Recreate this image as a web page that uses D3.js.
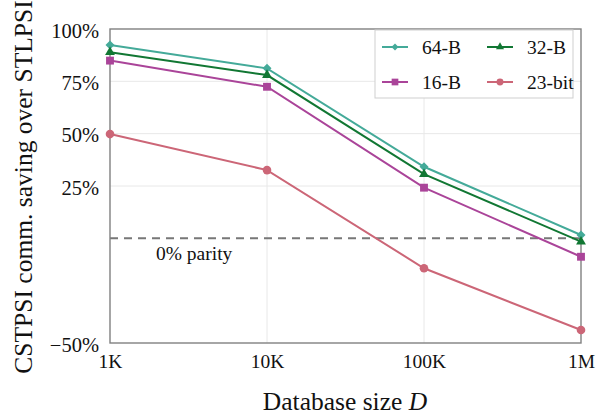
<!DOCTYPE html>
<html>
<head>
<meta charset="utf-8">
<script src="https://cdn.jsdelivr.net/npm/d3@7"></script>
<style>
  body { margin: 0; background: #fff; }
</style>
</head>
<body>
<div id="chart"></div>
<script>
// database sizes (x) and savings in percent (y)
const sizes = [1e3, 1e4, 1e5, 1e6];
const sizeLabels = ['1K', '10K', '100K', '1M'];
const yTicks = [100, 75, 50, 25, -50];
const gridY = [75, 50, 25];

const s64 = [92.4, 81.2, 34.2, 1.6];
const s32 = [88.9, 78.0, 30.7, -1.6];
const s16 = [84.9, 72.4, 24.2, -8.8];
const s23 = [49.8, 32.6, -14.3, -43.8];

const series = [
  { name: '64-B', values: s64, color: '#44AA99', symbol: d3.symbolDiamond2, size: 52, legSize: 32 },
  { name: '32-B', values: s32, color: '#117733', symbol: d3.symbolTriangle, size: 42, legSize: 28 },
  { name: '16-B', values: s16, color: '#AA4499', symbol: d3.symbolSquare, size: 62, legSize: 45 },
  { name: '23-bit', values: s23, color: '#CC6677', symbol: d3.symbolCircle, size: 58, legSize: 38 },
];

const FONT = 'Liberation Serif';
const width = 611, height = 417;
const margin = { top: 29, right: 30, bottom: 74, left: 110 };

const svg = d3.select('#chart').append('svg')
  .attr('width', width)
  .attr('height', height)
  .attr('font-family', FONT);

const x = d3.scaleLog()
  .domain([1e3, 1e6])
  .range([margin.left, width - margin.right]);

const y = d3.scaleLinear()
  .domain([-50, 100])
  .range([height - margin.bottom, margin.top]);

// grid
svg.append('g')
  .selectAll('line')
  .data(gridY)
  .join('line')
  .attr('x1', x.range()[0]).attr('x2', x.range()[1])
  .attr('y1', (d) => y(d)).attr('y2', (d) => y(d))
  .attr('stroke', '#e8e8e8').attr('stroke-width', 1);

svg.append('g')
  .selectAll('line')
  .data(sizes.slice(1, 3))
  .join('line')
  .attr('x1', (d) => x(d)).attr('x2', (d) => x(d))
  .attr('y1', y.range()[0]).attr('y2', y.range()[1])
  .attr('stroke', '#e8e8e8').attr('stroke-width', 1);

// zero parity line
svg.append('line')
  .attr('x1', x.range()[0]).attr('x2', x.range()[1])
  .attr('y1', y(0)).attr('y2', y(0))
  .attr('stroke', '#777').attr('stroke-width', 2)
  .attr('stroke-dasharray', '8,6');

svg.append('text')
  .attr('x', 156).attr('y', y(0) + 22)
  .attr('font-family', FONT)
  .attr('font-size', 19.5)
  .attr('fill', '#111')
  .text('0% parity');

// frame
svg.append('rect')
  .attr('x', x.range()[0]).attr('y', y.range()[1])
  .attr('width', x.range()[1] - x.range()[0])
  .attr('height', y.range()[0] - y.range()[1])
  .attr('fill', 'none').attr('stroke', '#808080').attr('stroke-width', 1.4);

// axes
const xAxis = svg.append('g')
  .attr('transform', `translate(0,${y.range()[0]})`)
  .call(d3.axisBottom(x).tickValues(sizes).tickFormat((d, i) => sizeLabels[i]).tickSize(0).tickPadding(11));
xAxis.select('.domain').remove();
xAxis.selectAll('text')
  .attr('font-family', FONT)
  .attr('font-size', 19.5)
  .attr('fill', '#111');

const yAxis = svg.append('g')
  .attr('transform', `translate(${x.range()[0]},0)`)
  .call(d3.axisLeft(y).tickValues(yTicks).tickFormat((d) => (d < 0 ? '\u2212' + Math.abs(d) : d) + '%').tickSize(0).tickPadding(11));
yAxis.select('.domain').remove();
yAxis.selectAll('text')
  .attr('font-family', FONT)
  .attr('font-size', 20.5)
  .attr('dy', '0.39em')
  .attr('fill', '#111');

// lines and markers
const line = d3.line()
  .x((d, i) => x(sizes[i]))
  .y((d) => y(d));

series.forEach((s) => {
  svg.append('path')
    .datum(s.values)
    .attr('d', line)
    .attr('fill', 'none')
    .attr('stroke', s.color)
    .attr('stroke-width', 2);

  svg.append('g')
    .selectAll('path')
    .data(s.values)
    .join('path')
    .attr('transform', (d, i) => `translate(${x(sizes[i])},${y(d)})`)
    .attr('d', d3.symbol().type(s.symbol).size(s.size))
    .attr('fill', s.color);
});

// legend
const legend = svg.append('g');
legend.append('rect')
  .attr('x', 375).attr('y', 30)
  .attr('width', 198).attr('height', 68)
  .attr('fill', '#fff').attr('stroke', '#cfcfcf').attr('stroke-width', 1);

const legPos = [[382, 47], [487, 47], [382, 82], [487, 82]];
series.forEach((s, i) => {
  const [lx, ly] = legPos[i];
  legend.append('line')
    .attr('x1', lx).attr('x2', lx + 26)
    .attr('y1', ly).attr('y2', ly)
    .attr('stroke', s.color).attr('stroke-width', 2);
  legend.append('path')
    .attr('transform', `translate(${lx + 13},${ly})`)
    .attr('d', d3.symbol().type(s.symbol).size(s.legSize))
    .attr('fill', s.color);
  legend.append('text')
    .attr('x', lx + 40).attr('y', ly)
    .attr('dy', '0.35em')
    .attr('font-family', FONT)
    .attr('font-size', 19.5)
    .attr('fill', '#111')
    .text(s.name);
});

// axis titles
svg.append('text')
  .attr('x', 345)
  .attr('y', 410)
  .attr('text-anchor', 'middle')
  .attr('font-family', FONT)
  .attr('font-size', 25.5)
  .attr('fill', '#111')
  .text('Database size ')
  .append('tspan')
  .attr('font-style', 'italic')
  .text('D');

svg.append('text')
  .attr('transform', 'translate(32,187) rotate(-90)')
  .attr('text-anchor', 'middle')
  .attr('font-family', FONT)
  .attr('font-size', 25.5)
  .attr('fill', '#111')
  .text('CSTPSI comm. saving over STLPSI');
</script>
</body>
</html>
